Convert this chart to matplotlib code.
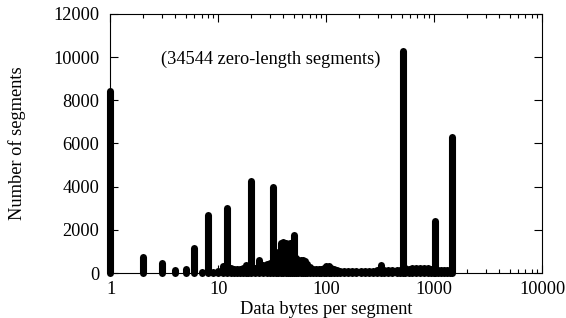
import matplotlib
matplotlib.use('Agg')
import matplotlib.pyplot as plt
from matplotlib.ticker import FixedLocator, FixedFormatter, LogLocator, NullFormatter

sizes = [1, 2, 3, 4, 5, 6, 7, 8, 9, 10, 11, 12, 13, 14, 15, 16, 17, 18, 19, 20,
         22, 24, 26, 28, 30, 32, 34, 36, 38, 40, 42, 44, 46, 48, 50, 52, 55, 58,
         61, 64, 67, 70, 75, 80, 85, 90, 95, 100, 105, 110, 118, 125, 135, 145,
         160, 175, 190, 210, 230, 250, 270, 295, 320, 345, 375, 410, 450, 480,
         512, 540, 580, 630, 680, 740, 800, 870, 940, 1000, 1024, 1080, 1150,
         1230, 1310, 1390, 1460]
counts = [8450, 730, 450, 120, 200, 1150, 60, 2700, 60, 80, 330, 3030, 250, 200,
          200, 200, 220, 350, 250, 4280,
          250, 580, 380, 400, 450, 3970, 700, 950, 1400, 1450, 1380, 1350, 1400,
          1350, 1750, 700, 600, 580,
          580, 550, 420, 300, 180, 180, 180, 180, 250, 330, 330, 250, 200, 150,
          90, 90,
          90, 90, 90, 90, 90, 90, 100, 120, 360, 140, 140, 140, 150, 160,
          10300, 250, 200, 210, 210, 210, 210, 210, 200, 180, 2400, 150, 140,
          140, 140, 140, 6300]

x_ticks = [1, 10, 100, 1000, 10000]
x_labels = ['1', '10', '100', '1000', '10000']
y_ticks = [0, 2000, 4000, 6000, 8000, 10000, 12000]

plt.rcParams['font.family'] = ['Liberation Serif', 'DejaVu Serif']
plt.rcParams['font.size'] = 13.2

fig = plt.figure(figsize=(5.66, 3.18), dpi=100)
ax = fig.add_axes([0.1952, 0.1415, 0.7624, 0.8145])

# gnuplot style impulses: thick lines with round ends
ax.vlines(sizes, 0, counts, colors='black', linewidth=5.1,
          capstyle='round', clip_on=False, zorder=3)

ax.set_xscale('log')
ax.set_xlim(1, 10000)
ax.set_ylim(0, 12000)
ax.xaxis.set_major_locator(FixedLocator(x_ticks))
ax.xaxis.set_major_formatter(FixedFormatter(x_labels))
ax.xaxis.set_minor_locator(LogLocator(base=10, subs=range(2, 10)))
ax.xaxis.set_minor_formatter(NullFormatter())
ax.set_yticks(y_ticks)
ax.set_yticklabels([str(v) for v in y_ticks])

ax.tick_params(which='both', direction='in', top=True, right=True, width=0.8)
ax.tick_params(which='major', length=6)
ax.tick_params(which='minor', length=3)
ax.tick_params(axis='x', which='major', pad=5.5)
ax.tick_params(axis='y', which='major', pad=8)
for s in ax.spines.values():
    s.set_linewidth(0.8)

ax.set_xlabel('Data bytes per segment')
ax.set_ylabel('Number of segments')
ax.xaxis.set_label_coords(0.5, -0.107)
ax.yaxis.set_label_coords(-0.195, 0.5)

ax.text(0.117, 0.826, '(34544 zero-length segments)', transform=ax.transAxes,
        ha='left', va='center')

fig.savefig('out.png', dpi=100)
